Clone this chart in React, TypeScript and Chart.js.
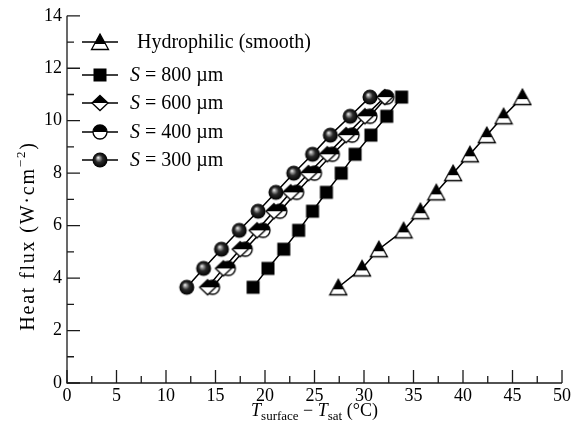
import { useEffect, useRef } from "react";
import { Chart, registerables } from "chart.js";

Chart.register(...registerables);

// ---- data ----
const heatFlux = [3.65, 4.37, 5.1, 5.82, 6.55, 7.27, 8.0, 8.72, 9.45, 10.17, 10.9];
const seriesLabels = ["Hydrophilic (smooth)", "S = 800 µm", "S = 600 µm", "S = 400 µm", "S = 300 µm"];
const hydrophilicX = [27.4, 29.8, 31.5, 34.0, 35.7, 37.3, 39.0, 40.7, 42.4, 44.1, 46.0];
const s800X = [18.8, 20.3, 21.9, 23.4, 24.8, 26.2, 27.7, 29.1, 30.7, 32.3, 33.8];
const s600X = [14.2, 15.8, 17.5, 19.2, 20.9, 22.6, 24.4, 26.3, 28.2, 30.1, 32.1];
const s400X = [14.7, 16.3, 18.0, 19.8, 21.5, 23.2, 25.0, 26.8, 28.8, 30.6, 32.3];
const s300X = [12.1, 13.8, 15.6, 17.4, 19.3, 21.1, 22.9, 24.8, 26.6, 28.6, 30.6];
const markerKinds = ["triangle", "square", "diamond", "halfcircle", "sphere"];
const xMin = 0, xMax = 50, xStep = 5;
const yMin = 0, yMax = 14, yStep = 2;

const FONT = '"Liberation Serif", "Times New Roman", serif';

function makeMarker(kind: string): HTMLCanvasElement {
  const c = document.createElement("canvas");
  const S = 20;
  c.width = S;
  c.height = S;
  const ctx = c.getContext("2d")!;
  ctx.lineWidth = 1.3;
  ctx.strokeStyle = "#000";
  const halfFill = (path: () => void, split: number) => {
    ctx.save();
    path();
    ctx.clip();
    ctx.fillStyle = "#fff";
    ctx.fillRect(0, 0, S, S);
    ctx.fillStyle = "#000";
    ctx.fillRect(0, 0, S, split);
    ctx.restore();
    path();
    ctx.stroke();
  };
  if (kind === "triangle") {
    const p = () => {
      ctx.beginPath();
      ctx.moveTo(10, 2);
      ctx.lineTo(18.5, 17.5);
      ctx.lineTo(1.5, 17.5);
      ctx.closePath();
    };
    halfFill(p, 12);
  } else if (kind === "square") {
    ctx.fillStyle = "#000";
    ctx.fillRect(3.5, 3.5, 13, 13);
  } else if (kind === "diamond") {
    const p = () => {
      ctx.beginPath();
      ctx.moveTo(10, 2.5);
      ctx.lineTo(18, 10);
      ctx.lineTo(10, 17.5);
      ctx.lineTo(2, 10);
      ctx.closePath();
    };
    halfFill(p, 10);
  } else if (kind === "halfcircle") {
    const p = () => {
      ctx.beginPath();
      ctx.arc(10, 10, 7, 0, Math.PI * 2);
    };
    halfFill(p, 10);
  } else {
    const g = ctx.createRadialGradient(8, 7.5, 0, 10, 10, 7.5);
    g.addColorStop(0, "#ffffff");
    g.addColorStop(0.2, "#a0a0a0");
    g.addColorStop(0.5, "#2a2a2a");
    g.addColorStop(1, "#000");
    ctx.fillStyle = g;
    ctx.beginPath();
    ctx.arc(10, 10, 7.5, 0, Math.PI * 2);
    ctx.fill();
  }
  return c;
}

function spacedWidth(ctx: CanvasRenderingContext2D, t: string, sp: number) {
  let w = 0;
  for (const ch of t) w += ctx.measureText(ch).width + sp;
  return w;
}
function drawSpaced(ctx: CanvasRenderingContext2D, t: string, x: number, y: number, sp: number) {
  let cx = x;
  for (const ch of t) {
    ctx.fillText(ch, cx, y);
    cx += ctx.measureText(ch).width + sp;
  }
  return cx - x;
}

export default function App() {
  const ref = useRef<HTMLCanvasElement | null>(null);
  useEffect(() => {
    if (!ref.current) return;
    const markers = markerKinds.map(makeMarker);
    const xs = [hydrophilicX, s800X, s600X, s400X, s300X];
    const datasets = xs.map((arr, i) => ({
      label: seriesLabels[i],
      data: arr.map((x, j) => ({ x, y: heatFlux[j] })),
      showLine: true,
      borderColor: "#000",
      borderWidth: 1.5,
      pointStyle: markers[i] as any,
      pointRadius: 8,
      pointHoverRadius: 8,
      backgroundColor: "#000",
    }));

    const decor = {
      id: "decor",
      afterDraw(chart: any) {
        const { ctx, chartArea } = chart;
        const xs_ = chart.scales.x;
        const ys_ = chart.scales.y;
        const { left, right, top, bottom } = chartArea;
        ctx.save();
        ctx.strokeStyle = "#1a1a1a";
        ctx.lineWidth = 1.3;
        ctx.beginPath();
        ctx.moveTo(left, top);
        ctx.lineTo(left, bottom);
        ctx.lineTo(right, bottom);
        ctx.stroke();
        // inward ticks
        ctx.beginPath();
        for (let v = xMin; v <= xMax + 1e-9; v += xStep / 2) {
          const px = xs_.getPixelForValue(v);
          const major = Math.abs(v / xStep - Math.round(v / xStep)) < 1e-6;
          const len = major ? 13 : 7;
          ctx.moveTo(px, bottom);
          ctx.lineTo(px, bottom - len);
        }
        for (let v = yMin; v <= yMax + 1e-9; v += yStep / 2) {
          const py = ys_.getPixelForValue(v);
          const major = Math.abs(v / yStep - Math.round(v / yStep)) < 1e-6;
          const len = major ? 13 : 7;
          ctx.moveTo(left, py);
          ctx.lineTo(left + len, py);
        }
        ctx.stroke();

        ctx.fillStyle = "#000";
        ctx.textBaseline = "alphabetic";
        // x title
        const big = `18px ${FONT}`;
        const bigI = `italic 18px ${FONT}`;
        const small = `13px ${FONT}`;
        const parts: [string, string, number][] = [
          ["T", bigI, 0],
          ["surface", small, 4],
          [" \u2212 ", big, 0],
          ["T", bigI, 0],
          ["sat", small, 4],
          [" (\u00B0C)", big, 0],
        ];
        let w = 0;
        for (const [t, f] of parts) {
          ctx.font = f;
          w += ctx.measureText(t).width;
        }
        let cx = (left + right) / 2 - w / 2;
        const by = 416;
        for (const [t, f, dy] of parts) {
          ctx.font = f;
          ctx.fillText(t, cx, by + dy);
          cx += ctx.measureText(t).width;
        }
        // y title
        ctx.save();
        ctx.translate(34, 236);
        ctx.rotate(-Math.PI / 2);
        const sp = 1.8;
        const ybig = `20px ${FONT}`;
        const ysmall = `13px ${FONT}`;
        const yparts: [string, string, number][] = [
          ["Heat flux (W\u00B7cm", ybig, 0],
          ["\u22122", ysmall, -9],
          [")", ybig, 0],
        ];
        let yw = 0;
        for (const [t, f] of yparts) {
          ctx.font = f;
          yw += spacedWidth(ctx, t, sp);
        }
        let tx = -yw / 2;
        for (const [t, f, dy] of yparts) {
          ctx.font = f;
          tx += drawSpaced(ctx, t, tx, dy, sp);
        }
        ctx.restore();

        // legend
        const rows = [42, 75, 103, 132, 160];
        ctx.lineWidth = 1.5;
        ctx.strokeStyle = "#000";
        chart.data.datasets.forEach((ds: any, i: number) => {
          const y = rows[i];
          ctx.beginPath();
          ctx.moveTo(82, y);
          ctx.lineTo(118, y);
          ctx.stroke();
          const m = markers[i];
          ctx.drawImage(m, 100 - m.width / 2, y - m.height / 2);
          const label: string = ds.label;
          ctx.textBaseline = "middle";
          if (label.startsWith("S ")) {
            ctx.font = `italic 20px ${FONT}`;
            ctx.fillText("S", 130, y + 1);
            const sw = ctx.measureText("S").width;
            ctx.font = `20px ${FONT}`;
            ctx.fillText(label.slice(1), 130 + sw, y + 1);
          } else {
            ctx.font = `20px ${FONT}`;
            ctx.fillText(label, 137, y + 1);
          }
        });
        ctx.restore();
      },
    };

    const chart = new Chart(ref.current, {
      type: "scatter",
      data: { datasets: datasets as any },
      options: {
        animation: false,
        responsive: false,
        layout: { padding: { left: 22, right: 18, top: 15, bottom: 0 } },
        plugins: { legend: { display: false }, tooltip: { enabled: false }, title: { display: false } },
        scales: {
          x: {
            type: "linear",
            min: xMin,
            max: xMax,
            ticks: { stepSize: xStep, color: "#000", font: { family: FONT, size: 18 }, padding: 2 },
            grid: { display: false, drawTicks: false },
            border: { display: false },
            afterFit: (s: any) => {
              s.height = 45;
            },
          },
          y: {
            type: "linear",
            min: yMin,
            max: yMax,
            ticks: { stepSize: yStep, color: "#000", font: { family: FONT, size: 18 }, padding: 5 },
            grid: { display: false, drawTicks: false },
            border: { display: false },
            afterFit: (s: any) => {
              s.width = 45;
            },
          },
        },
      },
      plugins: [decor],
    });
    return () => chart.destroy();
  }, []);
  return (
    <div style={{ position: "absolute", left: 0, top: 0, width: 580, height: 428, background: "#fff" }}>
      <canvas ref={ref} width={580} height={428} />
    </div>
  );
}
